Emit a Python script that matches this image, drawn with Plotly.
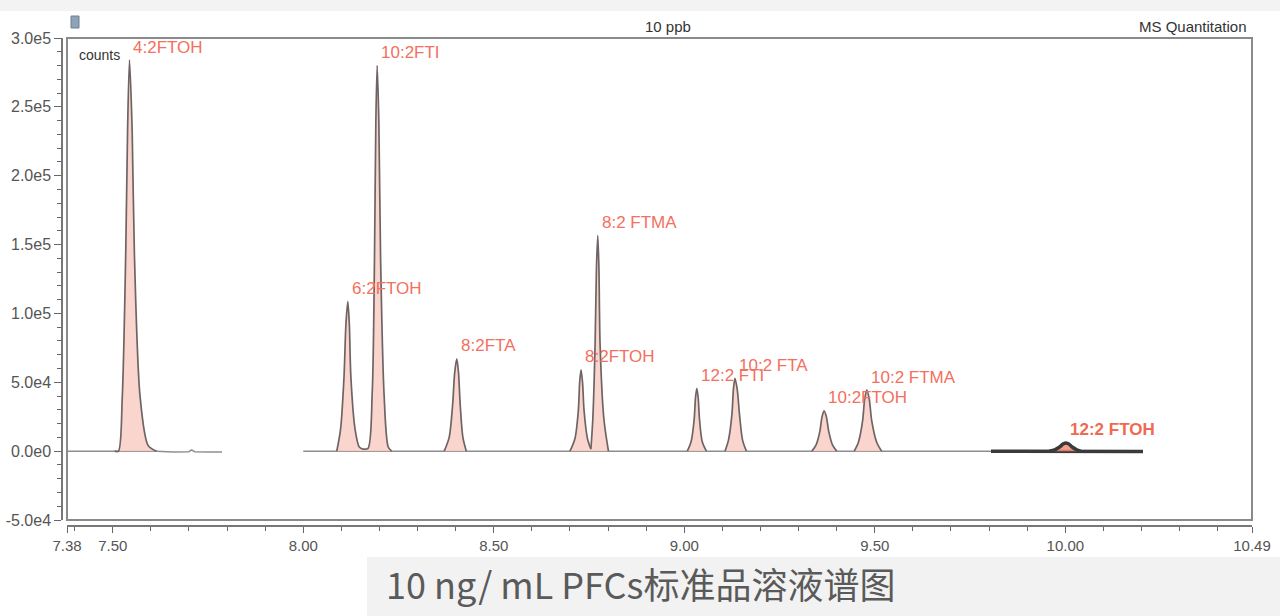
import plotly.graph_objects as go

W, H = 1280, 616

# ---------------- data ----------------
# retention time (min) / abundance (counts) profile points for each peak
t_42FTOH = [7.505, 7.515, 7.525, 7.534, 7.539, 7.544, 7.551, 7.557, 7.572, 7.593, 7.615]
y_42FTOH = [0, 0, 39000, 142000, 233000, 284000, 233000, 142000, 39000, 4000, 0]

t_62FTOH = [8.088, 8.098, 8.107, 8.112, 8.117, 8.121, 8.125, 8.136, 8.147, 8.157]
y_62FTOH = [0, 16000, 54000, 92000, 108500, 92000, 54000, 16000, 3000, 1500]

t_102FTI = [8.157, 8.170, 8.181, 8.187, 8.1905, 8.194, 8.1985, 8.203, 8.212, 8.223, 8.232]
y_102FTI = [1500, 2000, 42000, 140000, 238000, 280000, 238000, 140000, 42000, 3000, 0]

t_82FTA = [8.370, 8.383, 8.392, 8.3975, 8.403, 8.4075, 8.412, 8.419, 8.428]
y_82FTA = [0, 10000, 33500, 57000, 67000, 57000, 33500, 10000, 0]

t_82FTOH = [8.700, 8.713, 8.722, 8.7255, 8.729, 8.733, 8.737, 8.746, 8.755]
y_82FTOH = [0, 9000, 29500, 50000, 59000, 50000, 29500, 9000, 1500]

t_82FTMA = [8.755, 8.760, 8.766, 8.7695, 8.773, 8.776, 8.779, 8.789, 8.801]
y_82FTMA = [1500, 23500, 78000, 133000, 156500, 133000, 78000, 23500, 0]

t_122FTI = [9.008, 9.018, 9.026, 9.0295, 9.033, 9.0365, 9.040, 9.047, 9.058]
y_122FTI = [0, 7000, 23000, 38800, 45600, 38800, 23000, 7000, 0]

t_102FTA = [9.107, 9.116, 9.125, 9.129, 9.133, 9.139, 9.145, 9.153, 9.163]
y_102FTA = [0, 8000, 26500, 44900, 52800, 44900, 26500, 8000, 0]

t_102FTOH = [9.335, 9.346, 9.356, 9.3615, 9.367, 9.373, 9.379, 9.389, 9.400]
y_102FTOH = [0, 4500, 14500, 24900, 29300, 24900, 14500, 4500, 0]

t_102FTMA = [9.446, 9.457, 9.468, 9.4735, 9.479, 9.4855, 9.492, 9.505, 9.518]
y_102FTMA = [0, 6500, 22000, 37700, 44300, 37700, 22000, 6500, 0]

t_122FTOH = [9.958, 9.972, 9.985, 9.994, 10.002, 10.010, 10.018, 10.030, 10.040]
y_122FTOH = [0, 1000, 3000, 5100, 6000, 5100, 3000, 1000, 0]

peak_names = ["4:2FTOH", "6:2FTOH", "10:2FTI", "8:2FTA", "8:2FTOH", "8:2 FTMA",
              "12:2 FTI", "10:2 FTA", "10:2FTOH", "10:2 FTMA", "12:2 FTOH"]
peak_t = [t_42FTOH, t_62FTOH, t_102FTI, t_82FTA, t_82FTOH, t_82FTMA,
          t_122FTI, t_102FTA, t_102FTOH, t_102FTMA, t_122FTOH]
peak_y = [y_42FTOH, y_62FTOH, y_102FTI, y_82FTA, y_82FTOH, y_82FTMA,
          y_122FTI, y_102FTA, y_102FTOH, y_102FTMA, y_122FTOH]

# baseline segments
base1_t = [7.38, 7.505, 7.615, 7.66, 7.70, 7.707, 7.715, 7.75, 7.787]
base1_y = [0, 0, 0, -600, -400, 900, -400, -600, -700]
base2_t = [8.00, 8.30, 8.60, 9.00, 9.30, 9.60, 9.805]
base2_y = [0, 0, 0, 0, 0, 0, 0]
base3_t = [9.805, 9.958, 10.040, 10.10, 10.204]
base3_y = [0, 0, 0, -300, -300]

y_tickvals = [300000, 250000, 200000, 150000, 100000, 50000, 0, -50000]
y_ticktext = ["3.0e5", "2.5e5", "2.0e5", "1.5e5", "1.0e5", "5.0e4", "0.0e0", "-5.0e4"]
x_tickvals = [7.38, 7.50, 8.00, 8.50, 9.00, 9.50, 10.00, 10.49]
x_ticktext = ["7.38", "7.50", "8.00", "8.50", "9.00", "9.50", "10.00", "10.49"]

title_center = "10 ppb"
title_right = "MS Quantitation"
caption = "10 ng/ mL PFCs标准品溶液谱图"

# ---------------- layout geometry ----------------
px_l, px_r, px_t, px_b = 67, 1252, 38, 520
xd = [px_l / W, px_r / W]
yd = [(H - px_b) / H, (H - px_t) / H]

LABEL = "#f3705e"
fig = go.Figure()

for bt, by in [(base1_t, base1_y), (base2_t, base2_y)]:
    fig.add_trace(go.Scatter(x=bt, y=by, mode="lines",
                             line=dict(color="#8e8e8e", width=1.5),
                             hoverinfo="skip", showlegend=False))
fig.add_trace(go.Scatter(x=base3_t, y=base3_y, mode="lines",
                         line=dict(color="#3a3a3a", width=3.5),
                         hoverinfo="skip", showlegend=False))

for i, (name, tt, yy) in enumerate(zip(peak_names, peak_t, peak_y)):
    last = (i == len(peak_names) - 1)
    fig.add_trace(go.Scatter(
        x=tt, y=yy, mode="lines", name=name,
        line=dict(color="#3a3a3a" if last else "#6e6464",
                  width=3.5 if last else 1.7, shape="spline", smoothing=0.8),
        fill="tozeroy",
        fillcolor="rgba(244,140,120,0.85)" if last else "rgba(249,206,198,0.85)",
        showlegend=False))
    ymax = max(yy)
    tmax = tt[yy.index(ymax)]
    fig.add_annotation(x=tmax, y=ymax, xref="x", yref="y", text=name,
                       showarrow=False, xanchor="left", yanchor="middle",
                       xshift=2, yshift=13,
                       font=dict(family="Liberation Sans, Arial", size=17,
                                 color="#ef6a50" if last else LABEL,
                                 weight="bold" if last else "normal"))

fig.update_layout(
    width=W, height=H,
    margin=dict(l=0, r=0, t=0, b=0),
    paper_bgcolor="white", plot_bgcolor="white",
    showlegend=False,
    font=dict(family="Liberation Sans, Arial", color="#555555"),
    xaxis=dict(domain=xd, range=[7.38, 10.49], anchor="free",
               position=(H - 526) / H,
               tickmode="array", tickvals=x_tickvals, ticktext=x_ticktext,
               ticks="outside", ticklen=6, tickwidth=1.2, tickcolor="#666",
               showline=True, linecolor="#777", linewidth=1.5,
               showgrid=False, zeroline=False,
               tickfont=dict(size=15, color="#555"),
               minor=dict(dtick=0.1, tick0=7.5, ticks="outside", ticklen=4,
                          tickcolor="#666", tickwidth=1.2, showgrid=False),
               automargin=False),
    yaxis=dict(domain=yd, range=[-50000, 300000], anchor="free",
               position=62 / W,
               tickmode="array", tickvals=y_tickvals, ticktext=y_ticktext,
               ticks="outside", ticklen=7, tickwidth=1.2, tickcolor="#666",
               showline=True, linecolor="#777", linewidth=1.5,
               showgrid=False, zeroline=False,
               tickfont=dict(size=16, color="#555"),
               minor=dict(dtick=10000, tick0=0, ticks="outside", ticklen=4,
                          tickcolor="#666", tickwidth=1.2, showgrid=False),
               automargin=False),
)

shapes = [
    # top light band
    dict(type="rect", xref="paper", yref="paper", x0=0, x1=1,
         y0=(H - 11) / H, y1=1, fillcolor="#f3f3f3", line=dict(width=0),
         layer="below"),
    # bottom caption band
    dict(type="rect", xref="paper", yref="paper", x0=367 / W, x1=1,
         y0=0, y1=(H - 557) / H, fillcolor="#f2f2f2", line=dict(width=0),
         layer="below"),
    # plot frame
    dict(type="rect", xref="paper", yref="paper", x0=xd[0], x1=xd[1],
         y0=yd[0], y1=yd[1], line=dict(color="#8a8a8a", width=2),
         fillcolor="rgba(0,0,0,0)", layer="above"),
    # small icon
    dict(type="rect", xref="paper", yref="paper", x0=71 / W, x1=79 / W,
         y0=(H - 28) / H, y1=(H - 16) / H, fillcolor="#8fa3b8",
         line=dict(color="#6f8090", width=1)),
]
fig.update_layout(shapes=shapes)

fig.add_annotation(x=668 / W, y=1 - 26 / H, xref="paper", yref="paper",
                   text=title_center, showarrow=False, xanchor="center",
                   yanchor="middle", font=dict(size=15, color="#333"))
fig.add_annotation(x=1249 / W, y=1 - 26 / H, xref="paper", yref="paper",
                   text=title_right, showarrow=False, xanchor="right",
                   yanchor="middle", font=dict(size=15, color="#333"))
fig.add_annotation(x=77 / W, y=1 - 55 / H, xref="paper", yref="paper",
                   text="counts", showarrow=False, xanchor="left",
                   yanchor="middle", font=dict(size=14, color="#333"))
fig.add_annotation(x=640 / W, y=1 - 583 / H, xref="paper", yref="paper",
                   text=caption, showarrow=False, xanchor="center",
                   yanchor="middle",
                   font=dict(family="Noto Sans CJK SC", size=36, color="#5a5a5a"))

fig.write_html("out.html")
